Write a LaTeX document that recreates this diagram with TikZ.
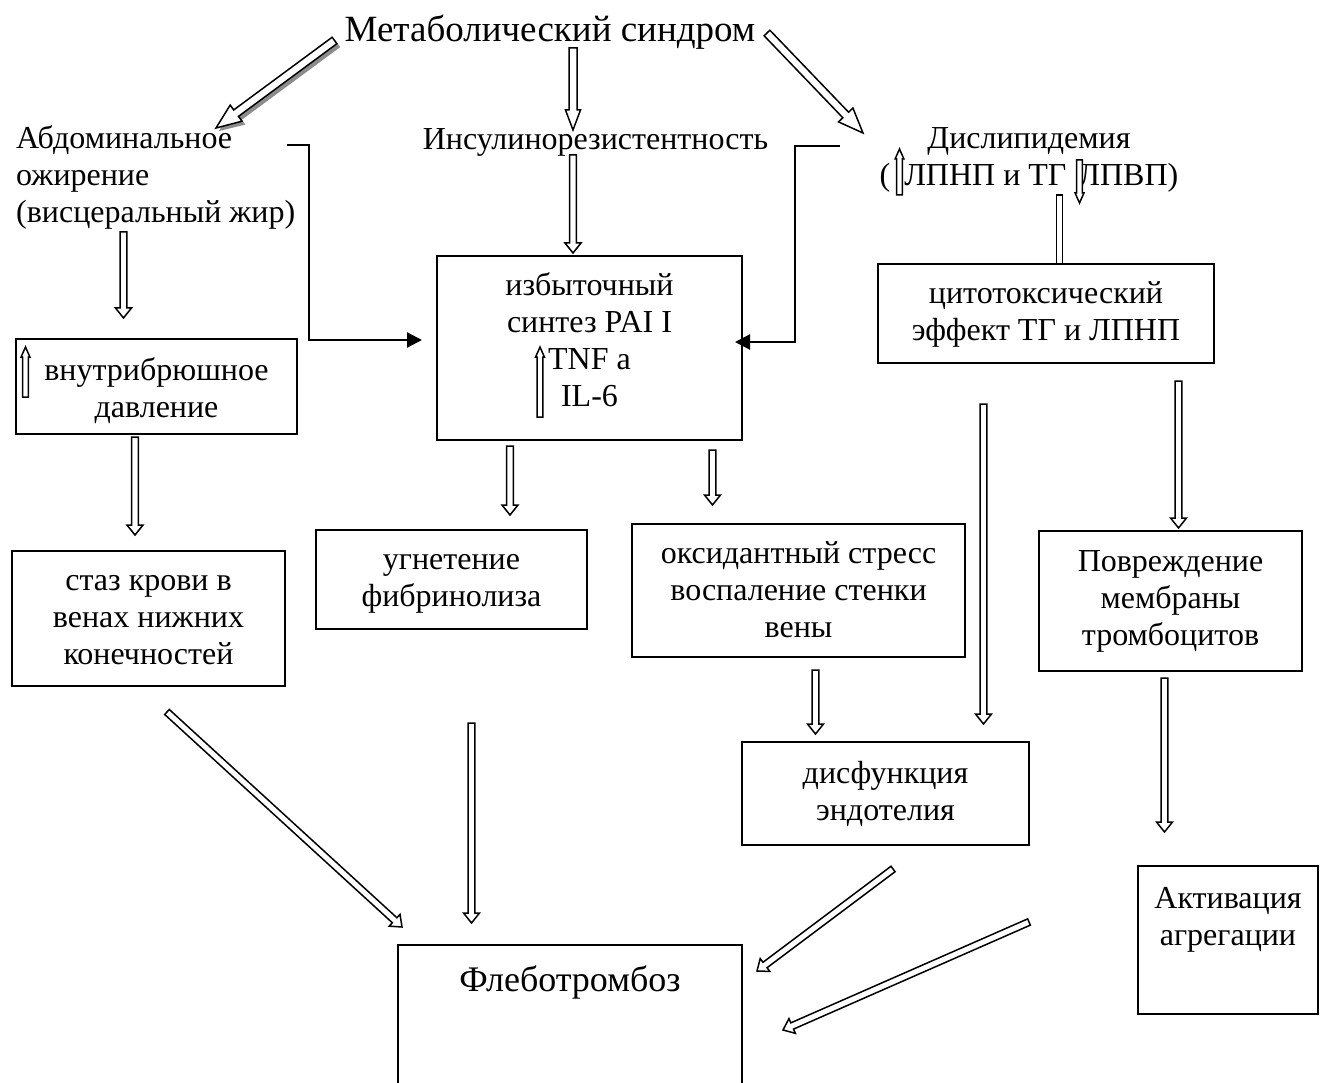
\documentclass[tikz,border=0pt]{standalone}
\usepackage{fontspec}
\setmainfont{Liberation Serif}
\usetikzlibrary{calc,arrows.meta}
\newcommand\bodyfont{\fontsize{32}{37}\selectfont}
\newcommand\titlefont{\fontsize{37}{42}\selectfont}
\newcommand\flebfont{\fontsize{36}{41}\selectfont}
\newcommand\txtop[1]{\rule{0pt}{#1pt}}
\newcommand\txbot[1]{\rule[-#1pt]{0pt}{0pt}}
% block (hollow) arrow: [opts]{tail}{tip}{shaft half}{head half}{head length}
\newcommand\blockarrow[6][]{%
  \coordinate (bah) at ($(#3)!#6!(#2)$);
  \path[barrow,#1] ($(#2)!#4!90:(#3)$) -- ($(bah)!#4!90:(#3)$) -- ($(bah)!#5!90:(#3)$) -- (#3)
    -- ($(bah)!#5!-90:(#3)$) -- ($(bah)!#4!-90:(#3)$) -- ($(#2)!#4!-90:(#3)$) -- cycle;}
\newcommand\medarrow[2]{\blockarrow{#1}{#2}{3.4pt}{8pt}{10pt}}
\newcommand\tinyarrow[2]{\blockarrow{#1}{#2}{2.8pt}{4.4pt}{10pt}}
\begin{document}
\begin{tikzpicture}[x=1pt,y=-1pt,
  box/.style={draw, line width=2.4pt, align=center, font=\bodyfont, inner sep=0pt},
  plain/.style={align=center, font=\bodyfont, inner sep=0pt},
  barrow/.style={draw, fill=white, line width=1.5pt, line join=miter},
  conn/.style={line width=2.2pt, -{Triangle[length=15pt,width=15pt]}}]
\useasboundingbox[fill=white] (0,0) rectangle (1328,1083);

% ---------- texts ----------
\node[plain, font=\titlefont, anchor=base] (ms) at (550,42) {Метаболический синдром};
\node[plain, anchor=base] (ins) at (595.5,150) {Инсулинорезистентность};
\node[plain, align=left, anchor=north west] (abd) at (16,123)
  {\txtop{25}Абдоминальное\\ожирение\\(висцеральный жир)};
\node[plain, anchor=north] (dys) at (1029,123)
  {\txtop{25}Дислипидемия\\(\hspace{14pt}ЛПНП и ТГ\hspace{12pt}ЛПВП)};

% ---------- boxes ----------
\node[box, minimum width=281pt, minimum height=95pt] (intra) at (156.5,386.5)
  {\txtop{32}внутрибрюшное\\давление\txbot{8}};
\node[box, minimum width=273pt, minimum height=135pt] (stasis) at (148.5,618.5)
  {\txtop{26}стаз крови в\\венах нижних\\конечностей\txbot{8}};
\node[box, minimum width=305pt, minimum height=184pt] (pai) at (589.5,348)
  {\txtop{23}избыточный\\синтез PAI I\\TNF a\\IL-6\txbot{17}};
\node[box, minimum width=336pt, minimum height=99pt] (cyto) at (1046,313.5)
  {\txtop{26}цитотоксический\\эффект ТГ и ЛПНП\txbot{8}};
\node[box, minimum width=271pt, minimum height=99pt] (ugn) at (451.5,579.5)
  {\txtop{24}угнетение\\фибринолиза\txbot{8}};
\node[box, minimum width=333pt, minimum height=133pt] (oxid) at (798.5,590.5)
  {\txtop{27}оксидантный стресс\\воспаление стенки\\вены\txbot{8}};
\node[box, minimum width=263pt, minimum height=140pt] (povr) at (1170.5,601)
  {\txtop{23}Повреждение\\мембраны\\тромбоцитов\txbot{8}};
\node[box, minimum width=287pt, minimum height=103pt] (dysf) at (885.5,793.5)
  {\txtop{24}дисфункция\\эндотелия\txbot{8}};
\node[box, minimum width=180pt, minimum height=148pt] (akt) at (1228,940)
  {\txtop{23}Активация\\агрегации\txbot{50}};
\node[box, font=\flebfont, minimum width=344pt, anchor=north] (fleb) at (570,944)
  {\txtop{46}Флеботромбоз\txbot{150}};

% ---------- connector end points ----------
\coordinate (a1s) at (334.5,40.5);  \coordinate (a1e) at (216,128);
\coordinate (a2s) at (573,48);      \coordinate (a2e) at (573,130);
\coordinate (a3s) at (767,33);      \coordinate (a3e) at (863,133);
\coordinate (i1s) at (573,155);     \coordinate (i1e) at (573,253);
\coordinate (i2s) at (123.5,232);   \coordinate (i2e) at (123.5,318);
\coordinate (i3s) at (135,437);     \coordinate (i3e) at (135,535);
\coordinate (i4s) at (510,446);     \coordinate (i4e) at (510,515);
\coordinate (i5s) at (712.5,450);   \coordinate (i5e) at (712.5,505);
\coordinate (i6s) at (815.5,670);   \coordinate (i6e) at (815.5,734);
\coordinate (i7s) at (983.5,404);   \coordinate (i7e) at (983.5,724);
\coordinate (i8s) at (1178.5,381);  \coordinate (i8e) at (1178.5,528);
\coordinate (i9s) at (1164.5,678);  \coordinate (i9e) at (1164.5,832);
\coordinate (i10s) at (471.5,723);  \coordinate (i10e) at (471.5,923);
\coordinate (d1s) at (167,712);     \coordinate (d1e) at (402,927);
\coordinate (d2s) at (893,869);     \coordinate (d2e) at (757,971);
\coordinate (d3s) at (1029,922);    \coordinate (d3e) at (783,1030);
\coordinate (t1s) at (25.5,397);    \coordinate (t1e) at (25.5,347);
\coordinate (t2s) at (540,417);     \coordinate (t2e) at (540,347);
\coordinate (t3s) at (899.5,195);   \coordinate (t3e) at (899.5,149);
\coordinate (t4s) at (1079.5,160);  \coordinate (t4e) at (1079.5,203);
\coordinate (dl1) at (1059.5,195);  \coordinate (dl2) at (1059.5,264);
\coordinate (lc1) at (287,145);     \coordinate (lcb) at (309,340);  \coordinate (lc2) at (422,340);
\coordinate (rc1) at (840,146);     \coordinate (rcb) at (795,342);  \coordinate (rc2) at (735,342);

% ---------- top arrows ----------
\blockarrow[fill=black!45, draw=none, transform canvas={shift={(3pt,-3pt)}}]{a1s}{a1e}{4.5pt}{10.5pt}{25pt}
\blockarrow{a1s}{a1e}{4pt}{10pt}{25pt}
\blockarrow{a2s}{a2e}{4pt}{7.5pt}{20pt}
\blockarrow{a3s}{a3e}{4pt}{10pt}{25pt}

% ---------- medium arrows ----------
\medarrow{i1s}{i1e}
\medarrow{i2s}{i2e}
\medarrow{i3s}{i3e}
\medarrow{i4s}{i4e}
\medarrow{i5s}{i5e}
\medarrow{i6s}{i6e}
\medarrow{i7s}{i7e}
\medarrow{i8s}{i8e}
\medarrow{i9s}{i9e}
\medarrow{i10s}{i10e}
\medarrow{d1s}{d1e}
\medarrow{d2s}{d2e}
\medarrow{d3s}{d3e}

% ---------- small arrows in texts ----------
\tinyarrow{t1s}{t1e}
\tinyarrow{t2s}{t2e}
\tinyarrow{t3s}{t3e}
\tinyarrow{t4s}{t4e}
\draw[barrow] ($(dl1)+(-3,0)$) rectangle ($(dl2)+(3,0)$);

% ---------- elbow connectors ----------
\draw[conn] (lc1) -| (lcb) -- (lc2);
\draw[conn] (rc1) -| (rcb) -- (rc2);
\end{tikzpicture}
\end{document}
